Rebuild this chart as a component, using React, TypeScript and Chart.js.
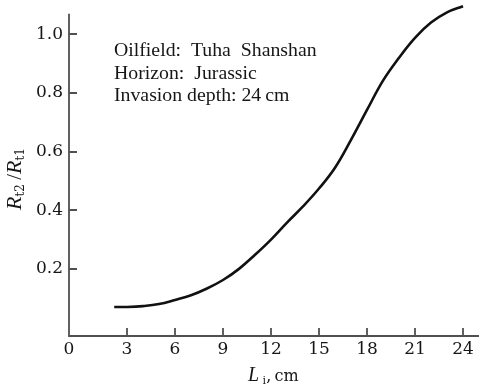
import React, { useEffect, useRef } from "react";
import { Chart, registerables } from "chart.js";

Chart.register(...registerables);

// Invasion length L_i (cm)
const lengths = [2.2, 3, 4, 5, 6, 7, 8, 9, 10, 11, 12, 13, 14, 15, 16, 17, 18, 19, 20, 21, 22, 23, 24];
// Resistivity ratio R_t2 / R_t1
const ratios = [0.07, 0.07, 0.073, 0.08, 0.094, 0.11, 0.133, 0.162, 0.2, 0.248, 0.3, 0.358, 0.413, 0.474, 0.545, 0.64, 0.742, 0.842, 0.92, 0.988, 1.04, 1.075, 1.096];

const xTickValues = [3, 6, 9, 12, 15, 18, 21, 24];
const yTickValues = [0.2, 0.4, 0.6, 0.8, 1.0];
const noteLines = ["Oilfield:  Tuha  Shanshan", "Horizon:  Jurassic", "Invasion depth: 24\u2009cm"];
const originLabel = "0";
const yAxisTop = 1.07;

const TICK_FONT = "17px 'DejaVu Serif'";
const TEXT_COLOR = "#161616";
const AXIS_COLOR = "#505050";

type Seg = { t: string; f: string; dy: number };

function drawSegs(ctx: CanvasRenderingContext2D, segs: Seg[], x: number, y: number) {
  let cx = x;
  for (const s of segs) {
    ctx.font = s.f;
    ctx.fillText(s.t, cx, y + s.dy);
    cx += ctx.measureText(s.t).width;
  }
}
function segsWidth(ctx: CanvasRenderingContext2D, segs: Seg[]) {
  let w = 0;
  for (const s of segs) {
    ctx.font = s.f;
    w += ctx.measureText(s.t).width;
  }
  return w;
}

const textPlugin = {
  id: "richText",
  afterDraw(chart: any) {
    const ctx: CanvasRenderingContext2D = chart.ctx;
    const area = chart.chartArea;
    const xs = chart.scales.x;
    const ys = chart.scales.y;
    ctx.save();

    // axes lines with inner tick marks
    ctx.strokeStyle = AXIS_COLOR;
    ctx.lineWidth = 1.8;
    ctx.lineCap = "butt";
    ctx.beginPath();
    ctx.moveTo(area.left, ys.getPixelForValue(yAxisTop));
    ctx.lineTo(area.left, area.bottom);
    ctx.lineTo(area.right, area.bottom);
    yTickValues.forEach((v) => {
      const py = Math.round(ys.getPixelForValue(v));
      ctx.moveTo(area.left, py);
      ctx.lineTo(area.left + 8, py);
    });
    xTickValues.forEach((v) => {
      const px = Math.round(xs.getPixelForValue(v));
      ctx.moveTo(px, area.bottom);
      ctx.lineTo(px, area.bottom - 8);
    });
    ctx.stroke();

    ctx.fillStyle = TEXT_COLOR;
    // origin label "0"
    ctx.font = TICK_FONT;
    ctx.textAlign = "center";
    ctx.textBaseline = "middle";
    ctx.fillText(originLabel, area.left, xs.top + 3 + 10.2);

    // annotation
    ctx.textAlign = "left";
    ctx.textBaseline = "alphabetic";
    ctx.font = "19.8px 'Liberation Serif'";
    noteLines.forEach((line, i) => {
      ctx.fillText(line, area.left + 45, 56 + i * 22.6);
    });

    // x title: L_i, cm
    const xSegs: Seg[] = [
      { t: "L", f: "italic 20px 'Liberation Serif'", dy: 0 },
      { t: " i", f: "11px 'DejaVu Serif'", dy: 3 },
      { t: ",\u2009cm", f: "16px 'DejaVu Serif'", dy: 0 },
    ];
    drawSegs(ctx, xSegs, 248, 381);

    // y title: R_t2 / R_t1 (rotated)
    const ySegs: Seg[] = [
      { t: "R", f: "italic 22px 'Liberation Serif'", dy: 0 },
      { t: "t2", f: "12px 'DejaVu Serif'", dy: 3 },
      { t: "\u2009/", f: "21px 'Liberation Serif'", dy: 0 },
      { t: "R", f: "italic 22px 'Liberation Serif'", dy: 0 },
      { t: "t1", f: "12px 'DejaVu Serif'", dy: 3 },
    ];
    ctx.translate(21, 179);
    ctx.rotate(-Math.PI / 2);
    const w = segsWidth(ctx, ySegs);
    drawSegs(ctx, ySegs, -w / 2, 0);
    ctx.restore();
  },
};

export default function App() {
  const ref = useRef<HTMLCanvasElement | null>(null);
  useEffect(() => {
    if (!ref.current) return;
    const chart = new Chart(ref.current, {
      type: "line",
      data: {
        datasets: [
          {
            data: lengths.map((x, i) => ({ x, y: ratios[i] })),
            borderColor: "#111",
            borderWidth: 2.6,
            pointRadius: 0,
            fill: false,
            tension: 0.4,
          },
        ],
      },
      options: {
        animation: false,
        responsive: false,
        maintainAspectRatio: false,
        layout: { padding: { top: 5, right: 0, left: 0, bottom: 0 } },
        plugins: { legend: { display: false }, tooltip: { enabled: false }, title: { display: false } },
        scales: {
          x: {
            type: "linear",
            min: -0.625,
            max: 25,
            afterBuildTicks: (s: any) => {
              s.ticks = xTickValues.map((v) => ({ value: v }));
            },
            afterFit: (s: any) => {
              s.height = 48;
              s.paddingLeft = 0;
              s.paddingRight = 0;
            },
            ticks: {
              font: { family: "DejaVu Serif", size: 17 },
              color: TEXT_COLOR,
              padding: 3,
              maxRotation: 0,
              autoSkip: false,
              callback: (v: any) => String(v),
            },
            grid: { display: false, drawTicks: false },
            border: { display: false },
          },
          y: {
            type: "linear",
            min: -0.029,
            max: 1.1,
            afterBuildTicks: (s: any) => {
              s.ticks = yTickValues.map((v) => ({ value: v }));
            },
            afterFit: (s: any) => {
              s.width = 69;
              s.paddingTop = 0;
              s.paddingBottom = 0;
            },
            ticks: {
              font: { family: "DejaVu Serif", size: 17 },
              color: TEXT_COLOR,
              padding: 6,
              autoSkip: false,
              callback: (v: any) => Number(v).toFixed(1),
            },
            grid: { display: false, drawTicks: false },
            border: { display: false },
          },
        },
      },
      plugins: [textPlugin],
    } as any);
    return () => chart.destroy();
  }, []);
  return (
    <div style={{ position: "absolute", left: 0, top: 0, width: 479, height: 384, background: "#fff" }}>
      <canvas ref={ref} width={479} height={384} style={{ display: "block" }} />
    </div>
  );
}
